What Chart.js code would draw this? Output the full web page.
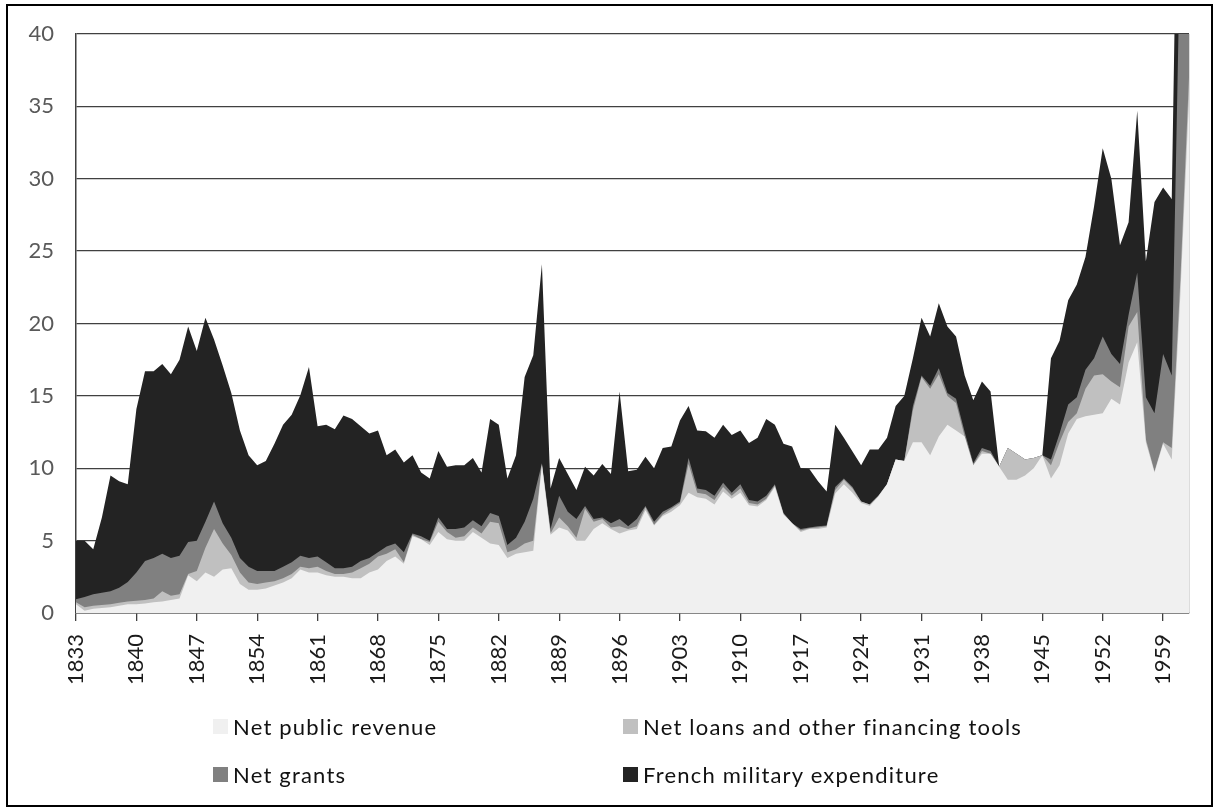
<!DOCTYPE html>
<html>
<head>
<meta charset="utf-8">
<script src="https://cdn.jsdelivr.net/npm/chart.js@4.4.1/dist/chart.umd.min.js"></script>
<style>
  html, body { margin: 0; padding: 0; background: #fff; }
  #wrap { position: relative; width: 1217px; height: 809px; }
  #frame { position: absolute; left: 6px; top: 4px; width: 1203px; height: 799px; border: 2px solid #000; pointer-events: none; }
  .leg { position: absolute; display: flex; align-items: center; font-family: Lato, sans-serif; font-size: 22px; letter-spacing: 1.2px; color: #111; white-space: nowrap; }
  .leg span.box { display: inline-block; width: 15px; height: 15px; margin-right: 5px; }
</style>
</head>
<body>
<div id="wrap">
  <canvas id="chart" width="1217" height="809"></canvas>
  <div id="legend"></div>
  <div id="frame"></div>
</div>
<script>
// categories
var years = [];
for (var y = 1833; y <= 1962; y++) years.push(String(y));

var revenue = [
  0.6, 0.15, 0.3, 0.35, 0.4, 0.5, 0.6, 0.6, 0.65, 0.75,
  0.8, 0.9, 1.0, 2.6, 2.2, 2.8, 2.5, 3.0, 3.1, 2.0,
  1.6, 1.6, 1.7, 1.9, 2.1, 2.4, 3.0, 2.8, 2.8, 2.6,
  2.5, 2.5, 2.4, 2.4, 2.8, 3.0, 3.6, 3.9, 3.4, 5.3,
  5.1, 4.7, 5.6, 5.1, 5.0, 5.0, 5.6, 5.2, 4.8, 4.7,
  3.8, 4.1, 4.2, 4.3, 10.2, 5.4, 5.9, 5.7, 5.0, 5.0,
  5.8, 6.2, 5.8, 5.5, 5.7, 5.8, 7.1, 6.05, 6.7, 7.0,
  7.45, 8.3, 8.0, 7.9, 7.5, 8.4, 7.9, 8.3, 7.45, 7.35,
  7.8, 8.7, 6.8, 6.2, 5.6, 5.8, 5.8, 5.9, 8.25, 8.9,
  8.3, 7.6, 7.4, 8.05, 8.9, 10.6, 10.5, 11.8, 11.8, 10.9,
  12.2, 13.0, 12.6, 12.2, 10.2, 11.0, 11.0, 10.1, 9.2, 9.2,
  9.5, 10.0, 10.9, 9.3, 10.2, 12.4, 13.4, 13.6, 13.7, 13.8,
  14.8, 14.4, 17.3, 18.7, 11.8, 9.7, 11.7, 10.6, 22.0, 35.5
];
var loans = [
  0.15, 0.25, 0.2, 0.2, 0.2, 0.2, 0.2, 0.25, 0.25, 0.25,
  0.7, 0.3, 0.3, 0.1, 0.7, 1.7, 3.3, 1.8, 0.9, 0.8,
  0.5, 0.4, 0.4, 0.3, 0.3, 0.3, 0.2, 0.3, 0.4, 0.3,
  0.2, 0.2, 0.4, 0.7, 0.6, 0.9, 0.5, 0.5, 0.1, 0.1,
  0.0, 0.2, 0.7, 0.5, 0.2, 0.3, 0.3, 0.3, 1.5, 1.5,
  0.4, 0.3, 0.6, 0.7, 0.1, 0.1, 0.7, 0.3, 0.2, 2.2,
  0.5, 0.3, 0.1, 0.5, 0.1, 0.2, 0.2, 0.05, 0.1, 0.2,
  0.15, 2.0, 0.3, 0.3, 0.3, 0.3, 0.2, 0.3, 0.15, 0.15,
  0.1, 0.1, 0.05, 0.0, 0.1, 0.05, 0.1, 0.1, 0.25, 0.3,
  0.3, 0.1, 0.1, 0.05, 0.0, 0.0, 0.0, 2.2, 4.5, 4.6,
  4.3, 2.0, 1.9, 0.0, 0.0, 0.2, 0.0, 0.0, 2.2, 1.8,
  1.1, 0.7, 0.0, 0.9, 1.6, 0.8, 0.4, 1.9, 2.7, 2.7,
  1.2, 1.2, 2.5, 2.1, 0.2, 0.1, 0.1, 0.8, 1.0, 1.5
];
var grants = [
  0.2, 0.7, 0.8, 0.85, 0.9, 1.05, 1.35, 1.95, 2.7, 2.8,
  2.6, 2.6, 2.65, 2.2, 2.1, 1.8, 1.9, 1.4, 1.2, 1.0,
  1.1, 0.9, 0.8, 0.7, 0.8, 0.8, 0.75, 0.7, 0.7, 0.6,
  0.4, 0.4, 0.4, 0.5, 0.4, 0.3, 0.5, 0.4, 0.7, 0.1,
  0.2, 0.1, 0.3, 0.2, 0.6, 0.6, 0.5, 0.5, 0.6, 0.5,
  0.5, 0.8, 1.5, 2.9, 0.05, 0.3, 1.5, 1.0, 1.3, 0.2,
  0.2, 0.1, 0.3, 0.5, 0.2, 0.5, 0.1, 0.2, 0.2, 0.1,
  0.1, 0.4, 0.3, 0.3, 0.3, 0.3, 0.2, 0.3, 0.2, 0.2,
  0.2, 0.1, 0.05, 0.0, 0.1, 0.05, 0.1, 0.05, 0.2, 0.1,
  0.1, 0.0, 0.0, 0.0, 0.0, 0.0, 0.0, 0.3, 0.1, 0.2,
  0.4, 0.2, 0.3, 0.3, 0.15, 0.2, 0.2, 0.0, 0.0, 0.0,
  0.0, 0.0, 0.0, 0.4, 0.6, 1.2, 1.1, 1.3, 1.2, 2.6,
  1.9, 1.6, 0.8, 2.7, 2.9, 4.0, 6.1, 5.0, 23.7, 23.0
];
var military = [
  4.05, 3.9, 3.1, 5.2, 8.0, 7.35, 6.75, 11.3, 13.1, 12.9,
  13.1, 12.7, 13.55, 14.9, 13.1, 14.1, 11.2, 10.9, 10.0, 8.8,
  7.7, 7.3, 7.6, 8.8, 9.8, 10.2, 11.1, 13.2, 9.0, 9.5,
  9.6, 10.55, 10.2, 9.3, 8.6, 8.4, 6.3, 6.5, 6.2, 5.4,
  4.4, 4.3, 4.6, 4.3, 4.4, 4.3, 4.3, 3.7, 6.5, 6.3,
  4.6, 5.7, 10.0, 9.9, 13.75, 2.8, 2.6, 2.6, 2.0, 2.7,
  3.0, 3.7, 3.4, 8.8, 3.8, 3.4, 3.4, 3.7, 4.4, 4.2,
  5.6, 3.6, 4.0, 4.05, 4.0, 4.0, 4.0, 3.7, 3.95, 4.4,
  5.3, 4.1, 4.8, 5.3, 4.2, 4.05, 3.1, 2.35, 4.3, 2.8,
  2.45, 2.5, 3.8, 3.2, 3.2, 3.7, 4.5, 3.3, 4.0, 3.4,
  4.5, 4.6, 4.3, 3.9, 4.35, 4.6, 4.1, 0.0, 0.0, 0.0,
  0.0, 0.0, 0.0, 7.0, 6.4, 7.2, 7.8, 7.8, 10.5, 13.0,
  12.1, 8.2, 6.4, 11.2, 9.4, 14.6, 11.5, 12.2, 18.3, 15.0
];

var seriesNames = ['Net public revenue', 'Net loans and other financing tools', 'Net grants', 'French military expenditure'];
var seriesColors = ['#f0f0f0', '#c0c0c0', '#808080', '#232323'];
var yTicks = [0, 5, 10, 15, 20, 25, 30, 35, 40];

var font = 'Lato, sans-serif';

function makeSet(i, values) {
  return {
    label: seriesNames[i],
    data: values,
    backgroundColor: seriesColors[i],
    borderWidth: 0,
    pointRadius: 0,
    fill: 'origin',
    tension: 0
  };
}

var chart = new Chart(document.getElementById('chart'), {
  type: 'line',
  data: {
    labels: years,
    datasets: [
      makeSet(0, revenue),
      makeSet(1, loans),
      makeSet(2, grants),
      makeSet(3, military)
    ]
  },
  options: {
    responsive: false,
    animation: false,
    devicePixelRatio: 1,
    layout: { padding: { top: 34, right: 28, left: 0, bottom: 0 } },
    plugins: { legend: { display: false }, tooltip: { enabled: false } },
    scales: {
      x: {
        offset: false,
        grid: {
          drawOnChartArea: true,
          drawTicks: true,
          tickLength: 8,
          lineWidth: 1.3,
          color: function (ctx) { return ctx.index === years.length - 1 ? '#8a8a8a' : 'rgba(0,0,0,0)'; },
          tickColor: function (ctx) { return ctx.index % 7 === 0 ? '#404040' : 'rgba(0,0,0,0)'; }
        },
        border: { display: true, color: '#404040', width: 1.5 },
        ticks: {
          autoSkip: false,
          maxRotation: 90,
          minRotation: 90,
          padding: 13,
          color: '#1a1a1a',
          font: { family: font, size: 22 },
          callback: function (v, i) { return i % 7 === 0 ? years[i] : ''; }
        },
        afterFit: function (s) { s.height = 196; s.paddingLeft = 0; s.paddingRight = 0; }
      },
      y: {
        stacked: true,
        min: 0,
        max: 40,
        afterBuildTicks: function (s) { s.ticks = yTicks.map(function (v) { return { value: v }; }); },
        grid: { drawTicks: false, color: '#404040', lineWidth: 1.3 },
        border: { display: true, color: '#404040', width: 1.5 },
        ticks: {
          padding: 22,
          color: '#595959',
          font: { family: font, size: 22 }
        },
        afterFit: function (s) { s.width = 76; s.paddingTop = 0; s.paddingBottom = 0; }
      }
    }
  }
});

// legend built from the chart's datasets
var legPos = [[213, 713], [623, 713], [213, 761], [623, 761]];
var legend = document.getElementById('legend');
chart.data.datasets.forEach(function (ds, i) {
  var d = document.createElement('div');
  d.className = 'leg';
  d.style.left = legPos[i][0] + 'px';
  d.style.top = legPos[i][1] + 'px';
  var b = document.createElement('span');
  b.className = 'box';
  b.style.background = ds.backgroundColor;
  d.appendChild(b);
  d.appendChild(document.createTextNode(ds.label));
  legend.appendChild(d);
});
</script>
</body>
</html>
